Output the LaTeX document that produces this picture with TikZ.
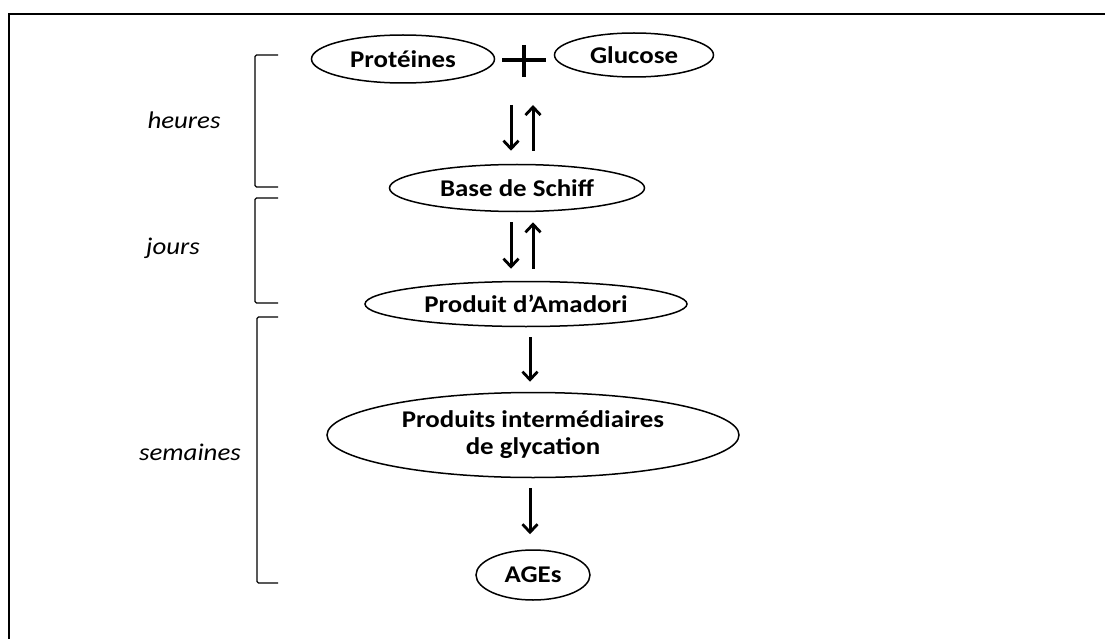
\documentclass[tikz,border=0pt]{standalone}
\usepackage{fontspec}
\setmainfont{Carlito}
\newfontfamily\nodefont[FakeStretch=1.12]{Carlito}
\usetikzlibrary{shapes.geometric,arrows.meta,calc}
\begin{document}
\begin{tikzpicture}[x=1pt,y=-1pt,
  oval/.style={draw,ellipse,line width=1.5pt,inner sep=0pt,align=center,
    font=\nodefont\bfseries\fontsize{24}{27}\selectfont},
  lab/.style={font=\nodefont\itshape\fontsize{24}{27}\selectfont},
  arr/.style={line width=3pt,-{Straight Barb[length=8pt,width=15pt,line width=2.8pt]}},
  brk/.style={line width=1.2pt,rounded corners=1.5pt},
  frame/.style={line width=2.5pt}]
\useasboundingbox (0,0) rectangle (1105,639);
\draw[frame] (9,639) -- (9,14) -- (1105,14);
% nodes
\node[oval,minimum width=183pt,minimum height=48pt] (prot) at (403,59) {Protéines};
\node[oval,minimum width=159pt,minimum height=44pt] (gluc) at (634,55) {Glucose};
\coordinate (plus) at (524,60);
\node[oval,minimum width=255pt,minimum height=47pt] (schiff) at (517,188) {Base de Schiff};
\node[oval,minimum width=322pt,minimum height=45pt] (amadori) at (526,304) {Produit d’Amadori};
\node[oval,minimum width=412pt,minimum height=85pt] (inter) at (533,435) {Produits intermédiaires\\de glycation};
\node[oval,minimum width=114pt,minimum height=50pt] (ages) at (533,575) {AGEs};
% plus sign
\draw[line width=3.2pt,shorten <=7pt,shorten >=8pt] (prot.east |- plus) -- (gluc.west |- plus);
\draw[line width=3.2pt] ($(plus)+(0,-15)$) -- ($(plus)+(0,17)$);
% arrow columns
\coordinate (k1) at (511,0);
\coordinate (k2) at (533,0);
\coordinate (k3) at (530,0);
\draw[arr,shorten <=45pt,shorten >=13pt] (plus -| k1) -- (schiff.north -| k1);
\draw[arr,shorten <=13pt,shorten >=45pt] (schiff.north -| k2) -- (plus -| k2);
\draw[arr,shorten <=10pt,shorten >=12pt] (schiff.south -| k1) -- (amadori.north -| k1);
\draw[arr,shorten <=12pt,shorten >=10pt] (amadori.north -| k2) -- (schiff.south -| k2);
\draw[arr,shorten <=10pt,shorten >=10pt] (amadori.south -| k3) -- (inter.north -| k3);
\draw[arr,shorten <=10pt,shorten >=15pt] (inter.south -| k3) -- (ages.north -| k3);
% brackets
\draw[brk] (278,55) -- (255,55) -- (255,187) -- (278,187);
\draw[brk] (278,198) -- (255,198) -- (255,303) -- (278,303);
\draw[brk] (278,317) -- (257,317) -- (257,583) -- (278,583);
% labels
\node[lab] (lh) at (184,120) {heures};
\node[lab] (lj) at (173,248) {jours};
\node[lab] (ls) at (190,452) {semaines};
\end{tikzpicture}
\end{document}
